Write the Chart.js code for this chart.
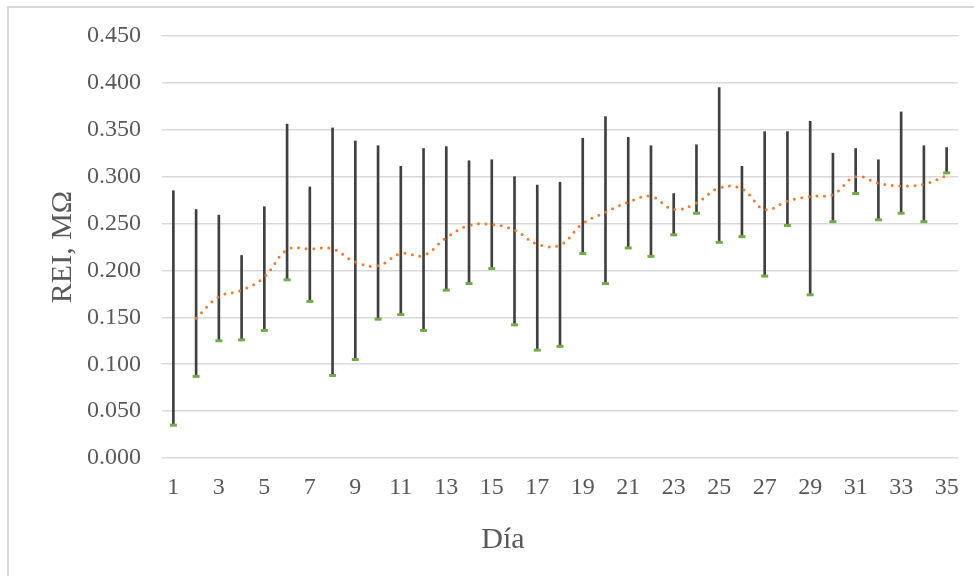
<!DOCTYPE html>
<html>
<head>
<meta charset="utf-8">
<script src="https://cdn.jsdelivr.net/npm/chart.js@4/dist/chart.umd.min.js"></script>
<style>
  html, body { margin: 0; padding: 0; background: #fff; overflow: hidden; }
  #wrap { position: relative; width: 974px; height: 576px; }
</style>
</head>
<body>
<div id="wrap"><canvas id="myChart" width="974" height="576"></canvas></div>
<script>
// days 1..35
var days = [];
for (var d = 1; d <= 35; d++) { days.push(String(d)); }

// daily maximum REI (top of each high-low line), MOhm
var highValues = [0.285, 0.265, 0.259, 0.216, 0.268, 0.356, 0.289, 0.352, 0.338, 0.333,
                  0.311, 0.330, 0.332, 0.317, 0.318, 0.300, 0.291, 0.294, 0.341, 0.364,
                  0.342, 0.333, 0.282, 0.334, 0.395, 0.311, 0.348, 0.348, 0.359, 0.325,
                  0.330, 0.318, 0.369, 0.333, 0.331];

// daily minimum REI (green markers)
var lowValues = [0.035, 0.087, 0.125, 0.126, 0.136, 0.190, 0.167, 0.088, 0.105, 0.148,
                 0.153, 0.136, 0.179, 0.186, 0.202, 0.142, 0.115, 0.119, 0.218, 0.186,
                 0.224, 0.215, 0.238, 0.261, 0.230, 0.236, 0.194, 0.248, 0.174, 0.252,
                 0.282, 0.254, 0.261, 0.252, 0.304];

// moving average trend line (orange dotted), starts on day 2
var trendValues = [null, 0.149, 0.172, 0.179, 0.193, 0.222, 0.223, 0.223, 0.209, 0.205,
                   0.218, 0.216, 0.235, 0.248, 0.249, 0.243, 0.228, 0.227, 0.250, 0.262,
                   0.273, 0.279, 0.265, 0.272, 0.288, 0.287, 0.265, 0.274, 0.279, 0.281,
                   0.300, 0.293, 0.290, 0.292, 0.301];

// y axis ticks
var yMin = 0;
var yMax = 0.45;
var yStep = 0.05;

var yTitle = 'REI, MΩ';
var xTitle = 'Día';

// bars need [low, high] pairs
var ranges = [];
for (var i = 0; i < days.length; i++) {
    ranges.push([lowValues[i], highValues[i]]);
}

var textColor = '#595959';
var gridColor = '#D9D9D9';
var serif = "'Liberation Serif', 'Times New Roman', serif";

// light gray frame around the chart, like the office chart border
var framePlugin = {
    id: 'frame',
    beforeDraw: function(chart) {
        var ctx = chart.ctx;
        ctx.save();
        ctx.fillStyle = '#fff';
        ctx.fillRect(0, 0, chart.width, chart.height);
        ctx.strokeStyle = gridColor;
        ctx.lineWidth = 2;
        ctx.strokeRect(8, 7, 1000, 1000);
        ctx.restore();
    }
};

// x axis title sits centred on the whole chart, not on the plot area
var xTitlePlugin = {
    id: 'xTitle',
    afterDraw: function(chart) {
        var ctx = chart.ctx;
        ctx.save();
        ctx.fillStyle = textColor;
        ctx.font = '30px ' + serif;
        ctx.textAlign = 'center';
        ctx.textBaseline = 'middle';
        ctx.fillText(xTitle, 503, 540);
        ctx.restore();
    }
};

var ctx = document.getElementById('myChart');
var myChart = new Chart(ctx, {
    data: {
        labels: days,
        datasets: [
            {
                type: 'line',
                label: 'Media móvil',
                data: trendValues,
                borderColor: '#ED7D31',
                borderWidth: 3,
                borderDash: [0, 7.6],
                borderCapStyle: 'round',
                pointRadius: 0,
                tension: 0.4,
                fill: false,
                order: 0
            },
            {
                type: 'line',
                label: 'Mínimo',
                data: lowValues,
                showLine: false,
                pointStyle: 'line',
                pointRadius: 3.5,
                pointBorderWidth: 3,
                pointBorderColor: '#70AD47',
                pointBackgroundColor: '#70AD47',
                order: 1
            },
            {
                type: 'bar',
                label: 'Rango',
                data: ranges,
                backgroundColor: '#3F3F3F',
                borderWidth: 0,
                barThickness: 2,
                order: 2
            }
        ]
    },
    options: {
        responsive: false,
        animation: false,
        layout: {
            padding: { left: 30, right: 16, top: 36, bottom: 18 }
        },
        plugins: {
            legend: { display: false },
            tooltip: { enabled: false }
        },
        scales: {
            x: {
                offset: true,
                grid: { display: false, drawTicks: false },
                border: { display: false },
                afterFit: function(scale) { scale.height = 100; },
                ticks: {
                    autoSkip: false,
                    maxRotation: 0,
                    padding: 15,
                    color: textColor,
                    font: { family: serif, size: 24 },
                    callback: function(value, index) {
                        return index % 2 === 0 ? days[index] : '';
                    }
                }
            },
            y: {
                min: yMin,
                max: yMax,
                grid: { color: gridColor, lineWidth: 1.5, drawTicks: false },
                border: { display: false },
                afterFit: function(scale) { scale.width = 132; },
                ticks: {
                    stepSize: yStep,
                    padding: 21,
                    color: textColor,
                    font: { family: serif, size: 24 },
                    callback: function(value) { return value.toFixed(3); }
                },
                title: {
                    display: true,
                    text: yTitle,
                    color: textColor,
                    font: { family: serif, size: 30, weight: 'normal' },
                    padding: { top: 15, bottom: 6 }
                }
            }
        }
    },
    plugins: [framePlugin, xTitlePlugin]
});
</script>
</body>
</html>
